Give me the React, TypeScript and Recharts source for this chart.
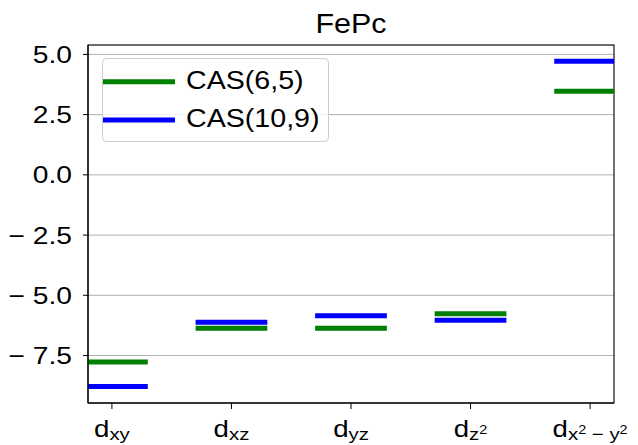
import React from 'react';
import { ComposedChart, Line, XAxis, YAxis, CartesianGrid, ReferenceArea, Legend } from 'recharts';

const FONT = '"Liberation Sans", Arial, Helvetica, sans-serif';
const SX = 1.2;

const title = 'FePc';
const orbitalSubs = ['xy', 'xz', 'yz', 'z²', 'x² − y²'];
const orbitalTicks = [0, 1, 2, 3, 4];
const levelPositions = [0, 1, 2, 3, 4];
const halfWidth = 0.3;
const cas65 = [-7.77, -6.37, -6.37, -5.77, 3.47];
const cas109 = [-8.78, -6.12, -5.85, -6.03, 4.72];
const seriesNames = ['CAS(6,5)', 'CAS(10,9)'];
const seriesColors = ['#008000', '#0000ff'];
const yTicks = [-7.5, -5, -2.5, 0, 2.5, 5];
const xDomain = [-0.2, 4.2];
const yDomain = [-9.47, 5.39];

function segments(values: number[]) {
  const out: { x: number; y: number | null }[] = [];
  values.forEach((v, i) => {
    const c = levelPositions[i];
    out.push({ x: c - halfWidth, y: v });
    out.push({ x: c + halfWidth, y: v });
    out.push({ x: c + halfWidth, y: null });
  });
  return out;
}

const series = [
  { name: seriesNames[0], color: seriesColors[0], data: segments(cas65) },
  { name: seriesNames[1], color: seriesColors[1], data: segments(cas109) },
];

function fmtY(v: number) {
  const s = Math.abs(v).toFixed(1);
  return v < 0 ? '\u2212 ' + s : s;
}

const YTick = (p: any) => (
  <text
    transform={`translate(${p.x},${p.y}) scale(${SX},1)`}
    textAnchor="end"
    dy="0.36em"
    fontSize={23.5}
    fontFamily={FONT}
    fill="#000"
  >
    {fmtY(p.payload.value)}
  </text>
);

const XTick = (p: any) => {
  const sub = orbitalSubs[Math.round(p.payload.value)] ?? '';
  const parts = sub.split('²');
  const spans: any[] = [];
  parts.forEach((part, i) => {
    if (part) {
      spans.push(
        <tspan key={'p' + i} fontSize={17} dy={i === 0 ? 3 : 6}>{part}</tspan>
      );
    }
    if (i < parts.length - 1) {
      spans.push(
        <tspan key={'s' + i} fontSize={12} dy={part || i === 0 ? -6 : 0}>2</tspan>
      );
    }
  });
  return (
    <text
      transform={`translate(${p.x},${p.y + 26}) scale(${SX},1)`}
      textAnchor="middle"
      fontSize={23}
      fontFamily={FONT}
      fill="#000"
    >
      <tspan>d</tspan>
      {spans}
    </text>
  );
};

const LegendBox = () => (
  <svg width={227} height={84} style={{ display: 'block' }}>
    <rect x={0.5} y={0.5} width={226} height={83} rx={4} ry={4} fill="#fff" fillOpacity={0.8} stroke="#cccccc" strokeWidth={1} />
    {series.map((s, i) => (
      <g key={s.name}>
        <line x1={1} x2={73} y1={23.7 + i * 38.4} y2={23.7 + i * 38.4} stroke={s.color} strokeWidth={5} />
        <text
          transform={`translate(84,${30.5 + i * 38.4}) scale(1.1,1)`}
          fontSize={26}
          fontFamily={FONT}
          fill="#000"
        >
          {s.name}
        </text>
      </g>
    ))}
  </svg>
);

export default function App() {
  return (
    <div style={{ position: 'absolute', left: 0, top: 0, width: 638, height: 445, background: '#fff' }}>
      <ComposedChart
        width={638}
        height={445}
        margin={{ top: 45, right: 24, bottom: 0, left: 0 }}
        style={{ fontFamily: FONT }}
      >
        <CartesianGrid vertical={false} stroke="#b0b0b0" strokeWidth={1} />
        <XAxis
          type="number"
          dataKey="x"
          domain={xDomain}
          allowDataOverflow
          ticks={orbitalTicks}
          interval={0}
          height={42}
          tickSize={6}
          axisLine={{ stroke: '#000', strokeWidth: 1.1 }}
          tickLine={{ stroke: '#000', strokeWidth: 1 }}
          tick={<XTick />}
        />
        <YAxis
          type="number"
          domain={yDomain}
          allowDataOverflow
          ticks={yTicks}
          interval={0}
          width={88}
          tickSize={5}
          tickMargin={11}
          axisLine={{ stroke: '#000', strokeWidth: 1.1 }}
          tickLine={{ stroke: '#000', strokeWidth: 1 }}
          tick={<YTick />}
        />
        <ReferenceArea
          x1={xDomain[0]}
          x2={xDomain[1]}
          y1={yDomain[0]}
          y2={yDomain[1]}
          fill="none"
          fillOpacity={0}
          stroke="#000"
          strokeWidth={1.1}
          ifOverflow="visible"
        />
        {series.map((s) => (
          <Line
            key={s.name}
            data={s.data}
            dataKey="y"
            name={s.name}
            stroke={s.color}
            strokeWidth={5}
            dot={false}
            activeDot={false}
            connectNulls={false}
            isAnimationActive={false}
            strokeLinecap="butt"
          />
        ))}
        <Legend
          layout="horizontal"
          verticalAlign="middle"
          align="center"
          content={<LegendBox />}
          wrapperStyle={{ position: 'absolute', left: 102, top: 58, width: 227, height: 84 }}
        />
      </ComposedChart>
      <svg width={638} height={45} style={{ position: 'absolute', left: 0, top: 0, pointerEvents: 'none' }}>
        <text
          transform={`translate(351,33) scale(1.13,1)`}
          textAnchor="middle"
          fontSize={27}
          fontFamily={FONT}
          fill="#000"
        >
          {title}
        </text>
      </svg>
    </div>
  );
}
